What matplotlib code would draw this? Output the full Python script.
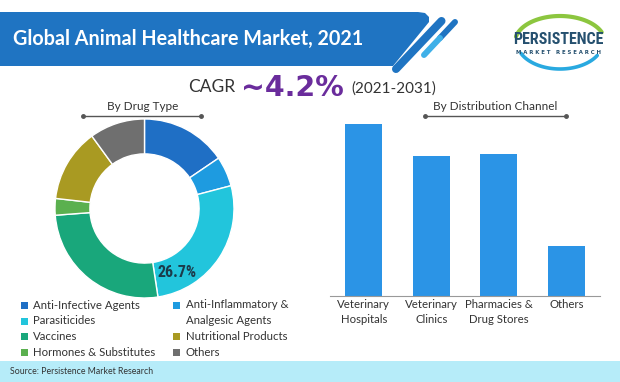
import numpy as np
import matplotlib.pyplot as plt
from matplotlib.patches import Polygon, Rectangle

plt.rcParams['font.family'] = ['Lato', 'DejaVu Sans']
NARROW = ['Roboto Condensed', 'Liberation Sans Narrow', 'DejaVu Sans Condensed', 'Roboto']

# drug type shares (donut), clockwise from 12 o'clock
drug_types = ["Anti-Infective Agents", "Anti-Inflammatory &\nAnalgesic Agents", "Parasiticides",
              "Vaccines", "Hormones & Substitutes", "Nutritional Products", "Others"]
drug_share = [15.5, 5.4, 26.7, 26.2, 3.0, 13.2, 10.0]
drug_colors = ["#1f6fc5", "#1e9be0", "#22c5dc", "#19a77b", "#5bb04f", "#a99a22", "#6f6f6f"]

# distribution channel (relative bar heights)
channels = ["Veterinary\nHospitals", "Veterinary\nClinics", "Pharmacies &\nDrug Stores", "Others"]
channel_share = [34.1, 27.7, 28.2, 10.0]

W, H = 620, 382
fig = plt.figure(figsize=(W / 100, H / 100), dpi=100)

# background axes in pixel coords for the decorations
bg = fig.add_axes([0, 0, 1, 1])
bg.set_xlim(0, W)
bg.set_ylim(H, 0)
bg.axis('off')

# title banner + stripes
banner = Polygon([(0, 12), (418, 12), (425, 13), (429, 17), (429, 22), (393, 66), (0, 66)],
                 closed=True, fc="#1f74c2", ec="none")
bg.add_patch(banner)
bg.plot([396, 441.5], [69, 21], color="#1f74c2", lw=5.8, solid_capstyle='round')
bg.plot([440, 455], [38, 22], color="#1f74c2", lw=4.3, solid_capstyle='round')
bg.plot([424, 440], [55, 38], color="#3fb0e8", lw=4.3, solid_capstyle='round')
bg.text(13, 45, "Global Animal Healthcare Market, 2021", color="white",
        fontsize=14.2, fontweight='bold', va='baseline', ha='left')

# logo
t = np.linspace(np.radians(22), np.radians(168), 80)
bg.plot(560 + 45 * np.cos(t), 42 - 26 * np.sin(t), color="#8cc63f", lw=3, solid_capstyle='round')
t = np.linspace(np.radians(205), np.radians(330), 80)
bg.plot(560 + 43 * np.cos(t), 42 - 27 * np.sin(t), color="#29a9e0", lw=2.6, solid_capstyle='round')
bg.text(558.5, 44, "PERSISTENCE", color="#25506f", fontsize=11.5, fontweight='bold',
        family=NARROW, ha='center', va='baseline')
bg.text(558.5, 54, "M A R K E T   R E S E A R C H", color="#25506f", fontsize=3.9,
        fontweight='bold', family=['DejaVu Sans'], ha='center', va='baseline')

# CAGR line
bg.text(188, 91.5, "CAGR", color="#333333", fontsize=12.5, va='baseline', ha='left')
bg.text(241, 95.5, "~4.2%", color="#6a2c9c", fontsize=20.5, fontweight='bold',
        family=['DejaVu Sans'], va='baseline', ha='left')
bg.text(351, 93, "(2021-2031)", color="#333333", fontsize=11, va='baseline', ha='left')

# section headings with dotted rules
for label, cx, x0, x1 in [("By Drug Type", 142.5, 83.3, 200.7),
                           ("By Distribution Channel", 495.5, 424.7, 566)]:
    bg.text(cx, 107, label, color="#333333", fontsize=8.5, ha='center', va='center')
    bg.plot([x0, x1], [116, 116], color="#555555", lw=1, marker='o', ms=2.5)

# legend
legend_slots = [(20.7, 305.3), (173, 305.3), (20.7, 321), (20.7, 336.7),
                (20.7, 352.3), (173, 336.7), (173, 352.3)]
for name, col, (lx, ly) in zip(drug_types, drug_colors, legend_slots):
    bg.add_patch(Rectangle((lx, ly - 3.5), 7, 7, fc=col, ec="none"))
    if "\n" in name:
        bg.text(lx + 12.5, ly - 6, name, color="#333333", fontsize=8.2, ha='left', va='top',
                linespacing=1.5)
    else:
        bg.text(lx + 12.5, ly, name, color="#333333", fontsize=8.2, ha='left', va='center')

# footer
bg.add_patch(Rectangle((0, 361), W, H - 361, fc="#b6ecf9", ec="none"))
bg.text(10, 372, "Source: Persistence Market Research", color="#333333", fontsize=6.3,
        ha='left', va='center')

# donut
ax1 = fig.add_axes([55 / W, (H - 298) / H, 179 / W, 179 / H])
ax1.pie(drug_share, colors=drug_colors, startangle=90, counterclock=False,
        wedgeprops=dict(width=0.39, edgecolor='white', linewidth=1))
ax1.set_xlim(-1, 1)
ax1.set_ylim(-1, 1)
ax1.set_aspect('equal')
ax1.text(0.36, -0.72, f"{drug_share[2]}%", color="#1b3b4b", fontsize=11.5, fontweight='bold',
         family=NARROW, ha='center', va='center')

# bars
ax2 = fig.add_axes([330 / W, (H - 296) / H, 270 / W, 176 / H])
ax2.patch.set_visible(False)
ax2.bar(range(len(channels)), channel_share, width=0.55, color="#2b94e6")
ax2.set_xlim(-0.5, 3.5)
ax2.set_ylim(0, 34.9)
ax2.set_xticks(range(len(channels)))
ax2.set_xticklabels(channels, fontsize=8.2, color="#333333", linespacing=1.45)
ax2.tick_params(axis='x', length=0, pad=2)
ax2.set_yticks([])
for s in ['top', 'right', 'left']:
    ax2.spines[s].set_visible(False)
ax2.spines['bottom'].set_color("#999999")
ax2.spines['bottom'].set_linewidth(0.8)

plt.savefig("out.png", dpi=100)
